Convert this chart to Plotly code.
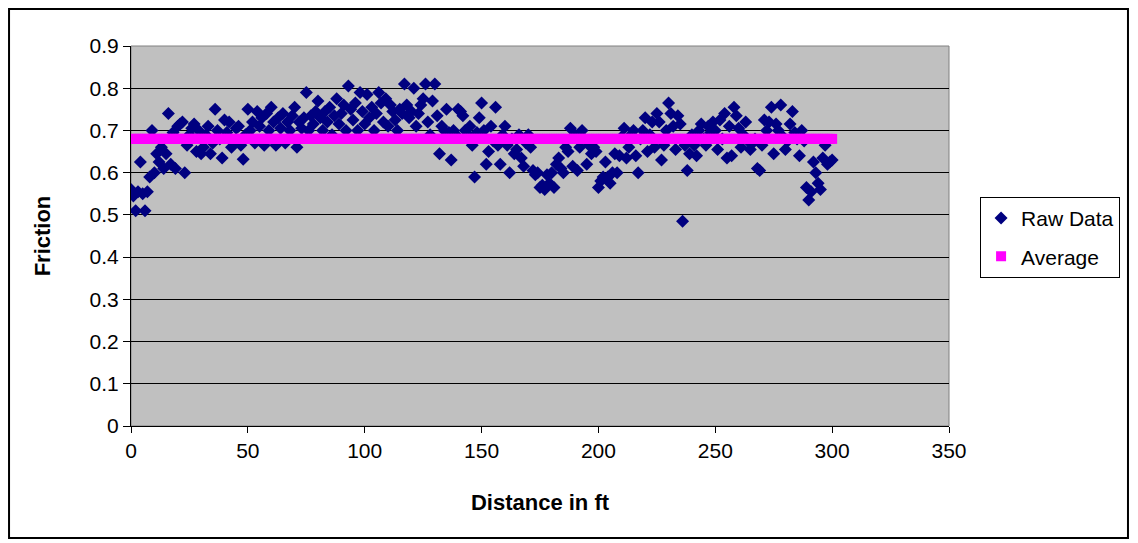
import plotly.graph_objects as go

# distance along the test strip, ft
distance = list(range(0, 301))

# raw friction readings, one per ft
friction = [
    0.56, 0.545, 0.51, 0.555, 0.625, 0.55, 0.51, 0.555, 0.59, 0.70,
    0.60, 0.645, 0.625, 0.66, 0.61, 0.645, 0.74, 0.62, 0.695, 0.61,
    0.71, 0.715, 0.72, 0.60, 0.665, 0.69, 0.705, 0.715, 0.65, 0.70,
    0.645, 0.66, 0.69, 0.71, 0.645, 0.67, 0.75, 0.70, 0.68, 0.635,
    0.725, 0.695, 0.72, 0.66, 0.67, 0.705, 0.71, 0.665, 0.632, 0.69,
    0.75, 0.70, 0.72, 0.67, 0.745, 0.71, 0.73, 0.665, 0.74, 0.70,
    0.755, 0.72, 0.665, 0.73, 0.705, 0.74, 0.67, 0.72, 0.70, 0.735,
    0.755, 0.66, 0.72, 0.705, 0.73, 0.79, 0.70, 0.735, 0.715, 0.745,
    0.77, 0.73, 0.70, 0.745, 0.72, 0.755, 0.69, 0.735, 0.775, 0.715,
    0.74, 0.76, 0.70, 0.805, 0.75, 0.725, 0.765, 0.70, 0.79, 0.745,
    0.715, 0.785, 0.73, 0.755, 0.70, 0.74, 0.79, 0.765, 0.72, 0.775,
    0.71, 0.76, 0.745, 0.725, 0.70, 0.75, 0.74, 0.81, 0.76, 0.73,
    0.745, 0.80, 0.71, 0.74, 0.76, 0.775, 0.81, 0.72, 0.69, 0.77,
    0.81, 0.735, 0.645, 0.71, 0.70, 0.75, 0.695, 0.63, 0.70, 0.69,
    0.75, 0.745, 0.735, 0.70, 0.69, 0.71, 0.665, 0.59, 0.695, 0.73,
    0.765, 0.70, 0.62, 0.65, 0.71, 0.675, 0.755, 0.665, 0.62, 0.69,
    0.71, 0.665, 0.60, 0.68, 0.645, 0.655, 0.69, 0.635, 0.615, 0.67,
    0.69, 0.66, 0.605, 0.595, 0.60, 0.565, 0.57, 0.56, 0.595, 0.575,
    0.60, 0.565, 0.62, 0.635, 0.61, 0.60, 0.66, 0.65, 0.705, 0.615,
    0.69, 0.605, 0.66, 0.70, 0.68, 0.62, 0.665, 0.645, 0.66, 0.65,
    0.565, 0.58, 0.59, 0.625, 0.59, 0.575, 0.60, 0.645, 0.60, 0.64,
    0.685, 0.705, 0.635, 0.66, 0.69, 0.70, 0.64, 0.60, 0.68, 0.70,
    0.73, 0.65, 0.69, 0.72, 0.66, 0.74, 0.72, 0.63, 0.665, 0.70,
    0.765, 0.74, 0.71, 0.655, 0.735, 0.715, 0.485, 0.665, 0.605, 0.645,
    0.69, 0.665, 0.64, 0.70, 0.715, 0.68, 0.665, 0.71, 0.695, 0.72,
    0.70, 0.655, 0.725, 0.68, 0.74, 0.635, 0.71, 0.64, 0.755, 0.735,
    0.705, 0.66, 0.69, 0.72, 0.675, 0.655, 0.67, 0.68, 0.61, 0.605,
    0.665, 0.725, 0.70, 0.72, 0.755, 0.645, 0.715, 0.70, 0.76, 0.685,
    0.655, 0.675, 0.715, 0.745, 0.695, 0.68, 0.64, 0.70, 0.675, 0.565,
    0.535, 0.555, 0.625, 0.60, 0.575, 0.56, 0.635, 0.665, 0.62, 0.625,
    0.63,
]

# average friction, drawn as its own series
average_value = 0.68
average = [average_value] * len(distance)

x_ticks = [0, 50, 100, 150, 200, 250, 300, 350]
y_ticks = [0, 0.1, 0.2, 0.3, 0.4, 0.5, 0.6, 0.7, 0.8, 0.9]

FONT = "Liberation Sans, Arial, sans-serif"

fig = go.Figure()

fig.add_trace(go.Scatter(
    x=distance,
    y=friction,
    mode='markers',
    name='Raw Data',
    legendgroup='raw',
    marker=dict(symbol='diamond', size=10, color='#000080', line=dict(width=0))
))

fig.add_trace(go.Scatter(
    x=distance,
    y=average,
    mode='markers',
    name='Average',
    legendgroup='avg',
    marker=dict(symbol='square', size=10, color='#FF00FF', line=dict(width=0))
))

# the page body adds an 8px margin, so the figure is 8px smaller on each side
fig.update_layout(
    width=1130,
    height=535,
    margin=dict(l=123, r=189, t=38, b=117),
    paper_bgcolor='white',
    plot_bgcolor='#C0C0C0',
    font=dict(family=FONT, size=21, color='black'),
    showlegend=True,
    legend=dict(
        x=1.038, y=0.603, xanchor='left', yanchor='top',
        bordercolor='black', borderwidth=1, bgcolor='white',
        font=dict(size=21),
        traceorder='grouped', tracegroupgap=8,
    ),
    shapes=[
        # plot area border
        dict(type='rect', xref='paper', yref='paper', x0=0, y0=0, x1=1, y1=1,
             line=dict(color='#808080', width=1), layer='below'),
        # outer chart frame, kept just inside the figure edges
        dict(type='rect', xref='paper', yref='paper', x0=-0.1491, y0=-0.2947,
             x1=1.2188, y1=1.0974, line=dict(color='black', width=2)),
    ],
)

fig.update_xaxes(
    range=[0, 350],
    tickvals=x_ticks,
    ticks='outside', ticklen=6, tickcolor='black',
    showline=True, linecolor='black', linewidth=1,
    showgrid=False, zeroline=False,
    title=dict(text='<b>Distance in ft</b>', standoff=33,
               font=dict(family=FONT, size=22)),
)

fig.update_yaxes(
    range=[0, 0.9],
    tickvals=y_ticks,
    ticks='outside', ticklen=7, tickcolor='black',
    showline=True, linecolor='black', linewidth=1,
    showgrid=True, gridcolor='black', gridwidth=1,
    zeroline=False,
    title=dict(text='<b>Friction</b>', standoff=32,
               font=dict(family=FONT, size=22)),
)

fig.write_html("out.html")
